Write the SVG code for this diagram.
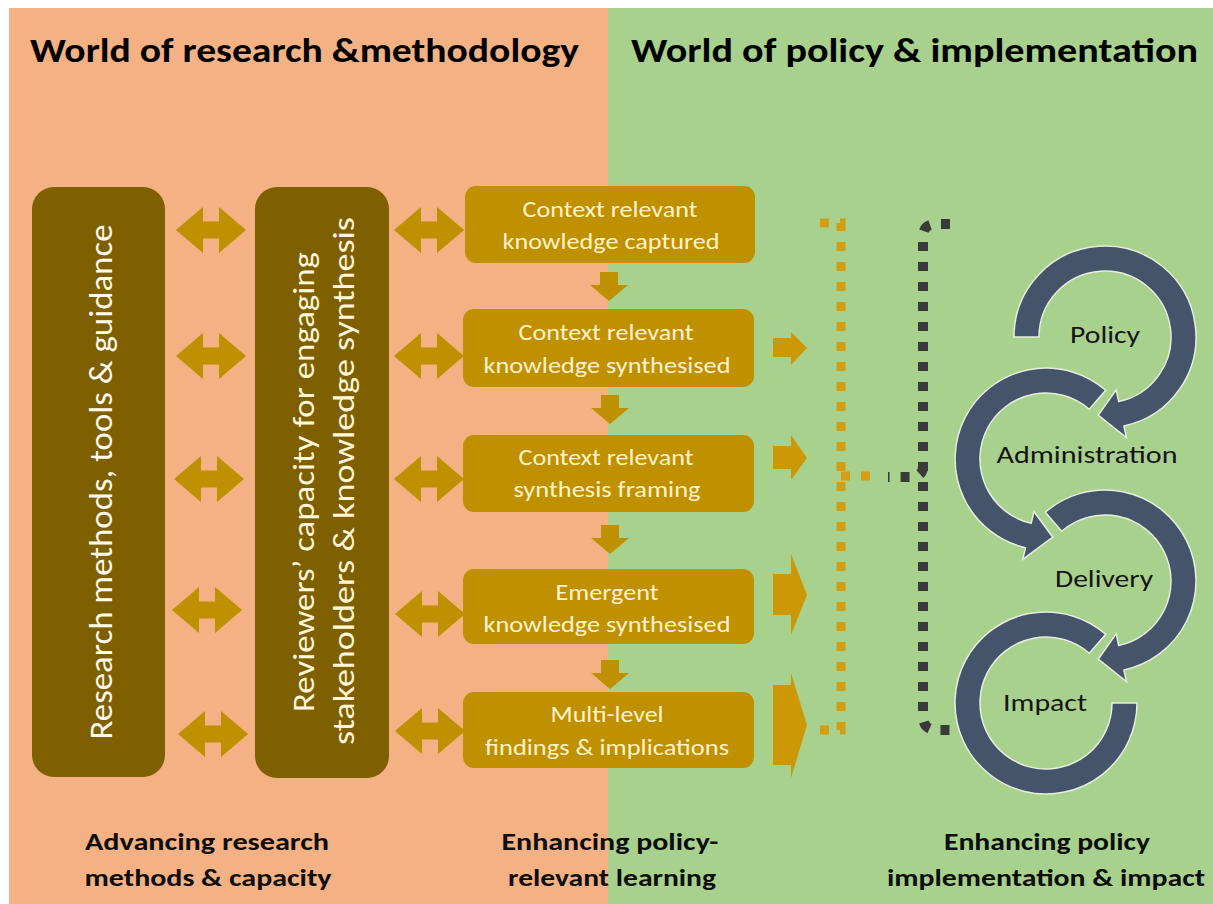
<svg xmlns="http://www.w3.org/2000/svg" width="1213" height="904" viewBox="0 0 1213 904">
<style>
text{font-family:Carlito,Lato,"Liberation Sans",sans-serif}
.ttl{font-weight:700;font-size:34px;fill:#000}
.lbl{font-weight:700;font-size:24px;fill:#0d0d0d;text-anchor:middle}
.vt{font-weight:300;font-size:32px;fill:#fffaf0;text-anchor:middle}
.vt2{font-weight:300;font-size:30px;fill:#fff6dc;text-anchor:middle}
.bt{font-size:22px;fill:#fff2cc;text-anchor:middle}
.rt{font-size:25px;fill:#141414;text-anchor:middle}
.dark{fill:#7f6000}
.gold{fill:#bf9000}
.rarr{fill:#cc9806}
.ring{fill:#44546a;stroke:#e6eedd;stroke-width:1.5}
.dotO{fill:none;stroke:#d49e12;stroke-width:9;stroke-dasharray:9 11}
.dotD{fill:none;stroke:#3a3a3a;stroke-width:10;stroke-dasharray:9 11}
</style>
<defs>
<path id="dbl" d="M-35 0 L-8 -23 L-8 -8.5 L8 -8.5 L8 -23 L35 0 L8 23 L8 8.5 L-8 8.5 L-8 23 Z"/>
<path id="down" d="M-9 0 L9 0 L9 13 L19 13 L0 29 L-19 13 L-9 13 Z"/>
</defs>
<rect x="0" y="0" width="1213" height="904" fill="#ffffff"/>
<rect x="9" y="8" width="599" height="896" fill="#f4b183"/>
<rect x="608" y="8" width="605" height="896" fill="#a9d18e"/>

<g id="titles">
<text class="ttl" x="30" y="62" textLength="549" lengthAdjust="spacingAndGlyphs">World of research &amp;methodology</text>
<text class="ttl" x="631" y="62" textLength="567" lengthAdjust="spacingAndGlyphs">World of policy &amp; implementation</text>
</g>

<g id="box-research-methods">
<rect class="dark" x="32" y="187" width="133" height="590" rx="22"/>
<text class="vt" transform="translate(112,482) rotate(-90)" textLength="515" lengthAdjust="spacingAndGlyphs">Research methods, tools &amp; guidance</text>
</g>
<g id="box-reviewers">
<rect class="dark" x="255" y="187" width="134" height="591" rx="22"/>
<text class="vt2" transform="translate(314,482) rotate(-90)" textLength="460" lengthAdjust="spacingAndGlyphs">Reviewers’ capacity for engaging</text>
<text class="vt2" transform="translate(354,481) rotate(-90)" textLength="528" lengthAdjust="spacingAndGlyphs">stakeholders &amp;  knowledge synthesis</text>
</g>

<g id="box-captured">
<rect class="gold" x="465" y="186" width="290" height="77" rx="11"/>
<text class="bt" x="610" y="217" textLength="175" lengthAdjust="spacingAndGlyphs">Context relevant</text>
<text class="bt" x="611" y="249" textLength="217" lengthAdjust="spacingAndGlyphs">knowledge captured</text>
</g>
<g id="box-synthesised">
<rect class="gold" x="463" y="309" width="291" height="78" rx="11"/>
<text class="bt" x="606" y="340" textLength="175" lengthAdjust="spacingAndGlyphs">Context relevant</text>
<text class="bt" x="607" y="373" textLength="247" lengthAdjust="spacingAndGlyphs">knowledge synthesised</text>
</g>
<g id="box-framing">
<rect class="gold" x="463" y="435" width="291" height="77" rx="11"/>
<text class="bt" x="606" y="465" textLength="175" lengthAdjust="spacingAndGlyphs">Context relevant</text>
<text class="bt" x="607" y="497" textLength="187" lengthAdjust="spacingAndGlyphs">synthesis framing</text>
</g>
<g id="box-emergent">
<rect class="gold" x="463" y="569" width="291" height="75" rx="11"/>
<text class="bt" x="607" y="600" textLength="103" lengthAdjust="spacingAndGlyphs">Emergent</text>
<text class="bt" x="607" y="632" textLength="247" lengthAdjust="spacingAndGlyphs">knowledge synthesised</text>
</g>
<g id="box-multilevel">
<rect class="gold" x="463" y="692" width="291" height="76" rx="11"/>
<text class="bt" x="607" y="722" textLength="113" lengthAdjust="spacingAndGlyphs">Multi-level</text>
<text class="bt" x="607" y="755" textLength="244" lengthAdjust="spacingAndGlyphs">findings &amp; implications</text>
</g>

<g id="ring-policy">
<path class="ring" d="M1014 337 A91 91 0 1 1 1123.9 426 L1126.4 437.7 L1098.2 415.2 L1116.2 389.8 L1118.7 401.6 A66 66 0 1 0 1039 337 Z"/>
<text class="rt" x="1105" y="343" textLength="70" lengthAdjust="spacingAndGlyphs">Policy</text>
</g>
<g id="ring-administration">
<path class="ring" d="M1105.7 390.3 A91 91 0 1 0 1025.5 547.7 L1022.8 559.4 L1052.8 537.2 L1033.9 511.6 L1031.2 523.3 A66 66 0 1 1 1089.3 409.2 Z"/>
<text class="rt" x="1087" y="463" textLength="181" lengthAdjust="spacingAndGlyphs">Administration</text>
</g>
<g id="ring-delivery">
<path class="ring" d="M1045.3 512.3 A91 91 0 1 1 1123.9 670 L1126.4 681.7 L1098.2 659.2 L1116.2 633.8 L1118.7 645.6 A66 66 0 1 0 1061.7 531.2 Z"/>
<text class="rt" x="1104" y="587" textLength="98" lengthAdjust="spacingAndGlyphs">Delivery</text>
</g>
<g id="ring-impact">
<path class="ring" d="M1105.7 634.3 A91 91 0 1 0 1137 703 L1112 703 A66 66 0 1 1 1089.3 653.2 Z"/>
<text class="rt" x="1045" y="711" textLength="84" lengthAdjust="spacingAndGlyphs">Impact</text>
</g>

<g id="connectors">
<g class="gold">
<use href="#dbl" x="211" y="230"/>
<use href="#dbl" x="211" y="356"/>
<use href="#dbl" x="209" y="479"/>
<use href="#dbl" x="207" y="610"/>
<use href="#dbl" x="213" y="734"/>
<use href="#dbl" x="429" y="230"/>
<use href="#dbl" x="429" y="356"/>
<use href="#dbl" x="429" y="479"/>
<use href="#dbl" x="430" y="614"/>
<use href="#dbl" x="430" y="731"/>
<use href="#down" x="609" y="272"/>
<use href="#down" x="610" y="395"/>
<use href="#down" x="610" y="525"/>
<use href="#down" x="610" y="660"/>
</g>
<g class="rarr">
<path d="M773 338 L791 338 L791 332 L807 348 L791 365 L791 357 L773 357 Z"/>
<path d="M773 446 L791 446 L791 435 L807 458 L791 480 L791 469 L773 469 Z"/>
<path d="M773 574 L791 574 L791 554 L807 595 L791 635 L791 615 L773 615 Z"/>
<path d="M773 685 L791 685 L791 673 L807 725 L791 778 L791 765 L773 765 Z"/>
</g>
<path class="dotO" d="M820 223 H841 V730 H811"/>
<path class="dotO" d="M841 476 H872"/>
<path class="dotD" d="M950 224 H936 Q923 224 923 237 V716 Q923 730 937 730 H960"/>
<path class="dotD" d="M923 466 Q923 477 911 477 H888"/>
</g>

<g id="bottom-labels">
<text class="lbl" x="207" y="850" textLength="244" lengthAdjust="spacingAndGlyphs">Advancing research</text>
<text class="lbl" x="208" y="886" textLength="247" lengthAdjust="spacingAndGlyphs">methods &amp; capacity</text>
<text class="lbl" x="610" y="850" textLength="217" lengthAdjust="spacingAndGlyphs">Enhancing policy-</text>
<text class="lbl" x="612" y="886" textLength="208" lengthAdjust="spacingAndGlyphs">relevant learning</text>
<text class="lbl" x="1047" y="850" textLength="206" lengthAdjust="spacingAndGlyphs">Enhancing policy</text>
<text class="lbl" x="1046" y="886" textLength="318" lengthAdjust="spacingAndGlyphs">implementation &amp; impact</text>
</g>
</svg>
